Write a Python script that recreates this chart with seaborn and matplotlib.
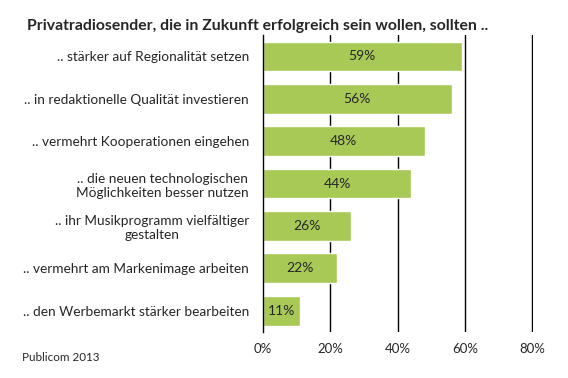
import pandas as pd
import seaborn as sns
import matplotlib.pyplot as plt

labels = [".. stärker auf Regionalität setzen",
          ".. in redaktionelle Qualität investieren",
          ".. vermehrt Kooperationen eingehen",
          ".. die neuen technologischen\nMöglichkeiten besser nutzen",
          ".. ihr Musikprogramm vielfältiger\ngestalten",
          ".. vermehrt am Markenimage arbeiten",
          ".. den Werbemarkt stärker bearbeiten"]
values = [59, 56, 48, 44, 26, 22, 11]
ticks = [0, 20, 40, 60, 80]

df = pd.DataFrame({"label": labels, "value": values})

sns.set_theme(style="white")
plt.rcParams["font.family"] = ["Lato", "DejaVu Sans"]

fig = plt.figure(figsize=(5.68, 3.78), dpi=100)
ax = fig.add_axes([0.463, 0.122, 0.476, 0.785])

sns.barplot(data=df, x="value", y="label", color="#a9c957", saturation=1,
            width=0.7, ax=ax)

ax.set_xlim(0, 80.3)
ax.set_xticks(ticks)
ax.set_xticklabels([f"{t}%" for t in ticks], fontsize=9.5)
for t in ticks[1:]:
    ax.axvline(t, color="black", lw=1, zorder=0)
ax.tick_params(axis="x", length=0, pad=8)
ax.tick_params(axis="y", length=0, pad=10)
for lab in ax.get_yticklabels():
    lab.set_fontsize(9.8)
    lab.set_multialignment("center")
ax.set_xlabel("")
ax.set_ylabel("")
for s in ["top", "right", "bottom"]:
    ax.spines[s].set_visible(False)
ax.spines["left"].set_color("black")
ax.spines["left"].set_linewidth(1)

for i, v in enumerate(values):
    ax.text(v / 2, i, f"{v}%", ha="center", va="center", fontsize=10)

fig.text(0.048, 0.93, "Privatradiosender, die in Zukunft erfolgreich sein wollen, sollten ..",
         fontsize=11.3, fontweight="bold", va="center")
fig.text(0.039, 0.055, "Publicom 2013", fontsize=8.4, va="center")

fig.savefig("out.png", dpi=100)
